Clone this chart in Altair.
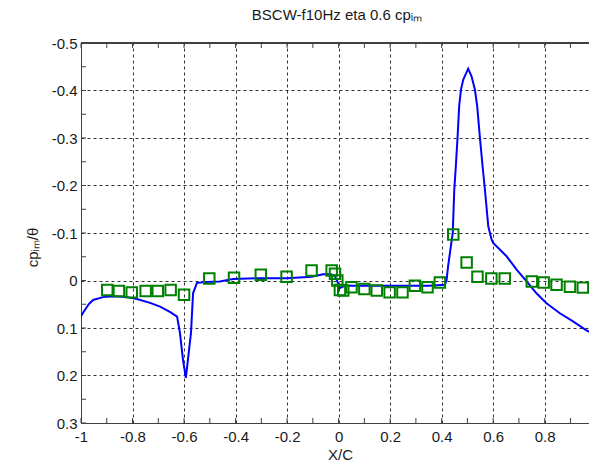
import altair as alt
import pandas as pd

# ---- data ----
line_x = [-1.0, -0.992, -0.97, -0.953, -0.915, -0.876, -0.821, -0.783, -0.732, -0.693,
          -0.655, -0.627, -0.616, -0.604, -0.593, -0.585, -0.573, -0.565, -0.550, -0.511,
          -0.461, -0.410, -0.305, -0.2, -0.105, -0.06, -0.03, -0.015, -0.005, 0.005,
          0.015, 0.03, 0.08, 0.2, 0.3, 0.35, 0.4125, 0.419, 0.425, 0.443,
          0.449, 0.455, 0.462, 0.468, 0.475, 0.484, 0.503, 0.516, 0.529, 0.538,
          0.548, 0.559, 0.568, 0.581, 0.594, 0.600, 0.652, 0.691, 0.730, 0.768,
          0.807, 0.859, 0.910, 0.962, 1.0]
line_y = [0.075, 0.068, 0.05, 0.041, 0.035, 0.033, 0.035, 0.039, 0.047, 0.055,
          0.066, 0.076, 0.11, 0.167, 0.205, 0.167, 0.11, 0.027, 0.005, 0.003,
          0.002, -0.003, -0.005, -0.005, -0.008, -0.013, -0.013, -0.010, 0.002, 0.016,
          0.013, 0.011, 0.011, 0.011, 0.011, 0.011, 0.009, 0.0, -0.03, -0.10,
          -0.191, -0.240, -0.304, -0.367, -0.402, -0.423, -0.446, -0.43, -0.402, -0.367,
          -0.304, -0.24, -0.191, -0.114, -0.086, -0.079, -0.051, -0.023, 0.002, 0.027,
          0.048, 0.069, 0.086, 0.105, 0.115]

exp_x = [-0.898, -0.853, -0.803, -0.749, -0.702, -0.652, -0.600, -0.502, -0.406, -0.302,
         -0.202, -0.105, -0.027, -0.014, -0.005, 0.005, 0.018, 0.050, 0.100, 0.148,
         0.198, 0.248, 0.296, 0.345, 0.393, 0.445, 0.497, 0.539, 0.593, 0.645,
         0.750, 0.796, 0.846, 0.898, 0.948]
exp_y = [0.020, 0.022, 0.025, 0.022, 0.022, 0.020, 0.030, -0.004, -0.006, -0.012,
         -0.008, -0.021, -0.021, -0.014, 0.000, 0.020, 0.021, 0.014, 0.018, 0.021,
         0.025, 0.025, 0.011, 0.014, 0.004, -0.097, -0.038, -0.008, -0.004, -0.004,
         0.002, 0.004, 0.009, 0.013, 0.015]

x_major = [-1.0, -0.8, -0.6, -0.4, -0.2, 0.0, 0.2, 0.4, 0.6, 0.8]
y_major = [-0.5, -0.4, -0.3, -0.2, -0.1, 0.0, 0.1, 0.2, 0.3]
x_minor = [-1.0, -0.9, -0.8, -0.7, -0.6, -0.5, -0.4, -0.3, -0.2, -0.1,
           0.0, 0.1, 0.2, 0.3, 0.4, 0.5, 0.6, 0.7, 0.8, 0.9]
y_minor = [-0.5, -0.45, -0.4, -0.35, -0.3, -0.25, -0.2, -0.15, -0.1, -0.05,
           0.0, 0.05, 0.1, 0.15, 0.2, 0.25, 0.3]

line_df = pd.DataFrame({"x": line_x, "y": line_y})
exp_df = pd.DataFrame({"x": exp_x, "y": exp_y})
xt_df = pd.DataFrame({"x": x_minor})
yt_df = pd.DataFrame({"y": y_minor})

W, H = 508, 380
FONT = "Liberation Sans"
TXT = "#1a1a1a"
AX = "#404040"

xs = alt.Scale(domain=[-1.0, 0.972], nice=False, zero=False)
ys = alt.Scale(domain=[-0.5, 0.3], reverse=True, nice=False, zero=False)

lab = "datum.value == 0 ? '0' : toString(round(datum.value*10)/10)"

x_axis = alt.Axis(values=x_major, title="X/C", grid=True, gridDash=[3, 3], gridColor="#000000",
                  gridOpacity=0.8, gridWidth=1, ticks=False, domainColor=AX, domainWidth=1,
                  labelExpr=lab, labelFont=FONT, labelFontSize=15, labelColor=TXT, labelPadding=6,
                  labelFlush=False, labelOverlap=False,
                  titleFont=FONT, titleFontSize=15, titleFontWeight="normal", titleColor=TXT,
                  titleX=259, titleY=31, titleBaseline="middle", titleAlign="center")
y_axis = alt.Axis(values=y_major, title="cpᵢₘ/θ", grid=True, gridDash=[3, 3], gridColor="#000000",
                  gridOpacity=0.8, gridWidth=1, ticks=False, domainColor=AX, domainWidth=1,
                  labelExpr=lab, labelFont=FONT, labelFontSize=15, labelColor=TXT, labelPadding=4,
                  labelFlush=False, labelOverlap=False,
                  titleFont=FONT, titleFontSize=15, titleFontWeight="normal", titleColor=TXT,
                  titleX=-49, titleY=204, titleAngle=270, titleBaseline="middle", titleAlign="center")

X = alt.X("x:Q", scale=xs, axis=x_axis)
Y = alt.Y("y:Q", scale=ys, axis=y_axis)

line = alt.Chart(line_df).mark_line(color="#0000ff", strokeWidth=2, clip=True).encode(x=X, y=Y)

pts = alt.Chart(exp_df).mark_point(shape="square", filled=False, size=110, strokeWidth=2,
                                   color="#008000", opacity=1, clip=True).encode(x=X, y=Y)

xt_bottom = alt.Chart(xt_df).mark_rule(color=AX, strokeWidth=1).encode(
    x=X, y=alt.value(H), y2=alt.value(H - 5))
xt_top = alt.Chart(xt_df).mark_rule(color=AX, strokeWidth=1).encode(
    x=X, y=alt.value(0), y2=alt.value(5))
yt_left = alt.Chart(yt_df).mark_rule(color=AX, strokeWidth=1).encode(
    y=Y, x=alt.value(0), x2=alt.value(5))
top_border = alt.Chart(xt_df).mark_rule(color=AX, strokeWidth=1).encode(
    x=alt.value(0), x2=alt.value(W), y=alt.value(0))

chart = alt.layer(line, xt_bottom, xt_top, yt_left, top_border, pts).properties(
    width=W, height=H,
    title=alt.TitleParams("BSCW-f10Hz eta 0.6 cpᵢₘ", font=FONT, fontSize=15, fontWeight="normal",
                          color=TXT, anchor="middle", offset=13, dx=2),
    autosize=alt.AutoSizeParams(type="none"),
    padding={"left": 81, "top": 43, "right": 0, "bottom": 43},
).configure_view(stroke=None).configure(background="white")

chart.save("out.html", embed_options={"renderer": "svg", "actions": False})
